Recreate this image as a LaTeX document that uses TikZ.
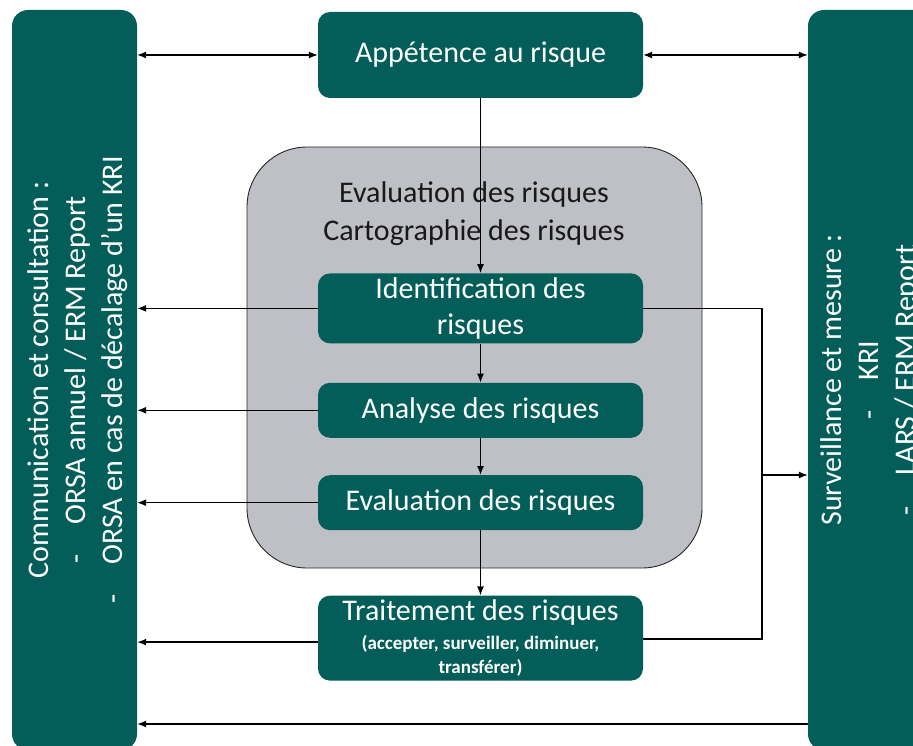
\documentclass[tikz,border=0pt]{standalone}
\usepackage{fontspec}
\setmainfont{Carlito}
\usetikzlibrary{positioning,arrows.meta}
\definecolor{ermteal}{HTML}{035E59}
\definecolor{ermgray}{HTML}{BEC0C5}
\tikzset{
	stage/.style={fill=ermteal, rounded corners=12pt, text=white, minimum width=325pt, inner sep=0pt, align=center, font=\fontsize{30}{36.6}\selectfont},
	sidebar/.style={fill=ermteal, rounded corners=16pt, minimum width=125pt, minimum height=740pt, inner sep=0pt},
	sidetext/.style={rotate=90, text=white, inner sep=0pt, align=center, font=\fontsize{30}{37}\selectfont},
	plain/.style={line width=1.3pt},
	link/.style={line width=1.3pt, -{Latex[length=9pt,width=7pt]}},
	dlink/.style={line width=1.3pt, {Latex[length=9pt,width=7pt]}-{Latex[length=9pt,width=7pt]}},
}

\begin{document}
\begin{tikzpicture}[x=1pt, y=-1pt]
	\useasboundingbox (0,0) rectangle (913,746);
	\clip (0,0) rectangle (913,746);
	\node[sidebar] (comm) at (74.5,380) {};
	\node[sidetext] (commtext) at (78,380) {Communication et consultation :\\-\hspace{30pt}ORSA annuel / ERM Report\\-\hspace{30pt}ORSA en cas de décalage d’un KRI};
	\node[sidebar] (surv) at (870.5,380) {};
	\node[sidetext] (survtext) at (870,380) {Surveillance et mesure :\\-\hspace{30pt}KRI\\-\hspace{30pt}LARS / ERM Report};
	\node[fill=ermgray, draw=black!85, line width=0.9pt, rounded corners=60pt, minimum width=455pt, minimum height=421pt, inner sep=0pt] (evalbox) at (474.5,357.5) {};
	\node[align=center, text=black!90, inner sep=0pt, font=\fontsize{30}{38}\selectfont] (evaltitle) at (474,214) {Evaluation des risques\\Cartographie des risques};
	\node[stage, minimum height=86pt] (appetence) at (480.5,55) {Appétence au risque};
	\node[stage, minimum height=70pt, below=175pt of appetence] (ident) {Identification des\\risques};
	\node[stage, minimum height=55pt, below=39pt of ident] (analyse) {Analyse des risques};
	\node[stage, minimum height=55pt, below=37pt of analyse] (evalr) {Evaluation des risques};
	\node[stage, minimum height=85pt, below=65pt of evalr] (traitement) {Traitement des risques\\[-8pt]{\bfseries\fontsize{19}{24}\selectfont (accepter, surveiller, diminuer,}\\[-12pt]{\bfseries\fontsize{19}{24}\selectfont transférer)}};
	\coordinate (bus) at (762,475);
	\draw[dlink] (comm.east |- appetence.west) -- (appetence.west);
	\draw[dlink] (appetence.east) -- (appetence.east -| surv.west);
	\draw[link] (appetence) -- (ident);
	\draw[link] (ident) -- (analyse);
	\draw[link] (analyse) -- (evalr);
	\draw[link] (evalr) -- (traitement);
	\draw[link] (ident.west) -- (ident.west -| comm.east);
	\draw[link] (analyse.west) -- (analyse.west -| comm.east);
	\draw[link] (evalr.west) -- (evalr.west -| comm.east);
	\draw[link] ([yshift=-4pt]traitement.west) -- ([yshift=-4pt]traitement.west -| comm.east);
	\draw[plain] (ident.east) -| (bus) |- ([yshift=-1pt]traitement.east);
	\draw[link] (bus) -- (bus -| surv.west);
	\draw[link] ([yshift=-344pt]surv.west) -- ([yshift=-344pt]comm.east);
\end{tikzpicture}
\end{document}
